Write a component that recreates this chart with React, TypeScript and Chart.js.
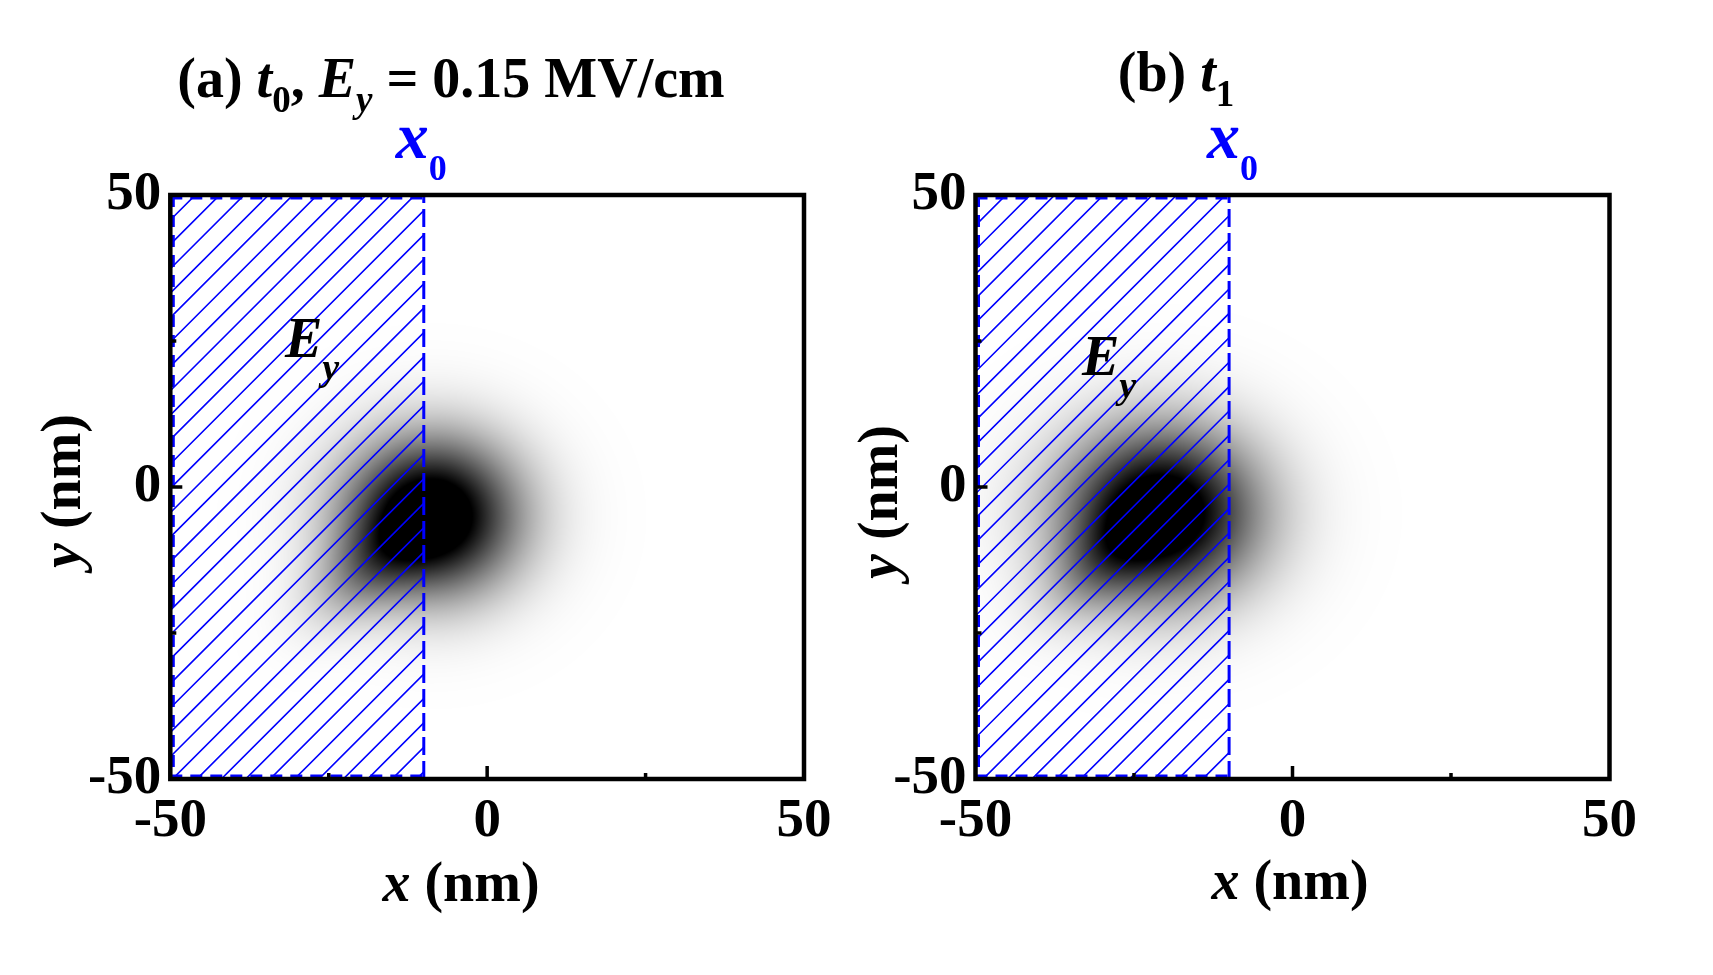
import React, { useEffect, useRef } from "react";
import { Chart, registerables } from "chart.js";

Chart.register(...registerables);

// ---------- data ----------
const axisMin = -50;
const axisMax = 50;
const tickValues = [-50, -25, 0, 25, 50];
const tickLabels = ["-50", "", "0", "", "50"];
const majorTickValues = [0];
const minorTickValues = [-25, 25];
const panelLetters = ["(a)", "(b)"];
const panelTimes = ["0", "1"];
const fieldValue = "0.15 MV/cm";
const fieldEdgeX0 = [-10, -10]; // x0 (nm) for panels a, b

// density blob components (nm): centre, sigma along/across axis, axis angle (deg), amplitude
const blobA_cx = [-8.8, -19.0];
const blobA_cy = [-5.0, -14.0];
const blobA_sigmaU = [9.4, 8.0];
const blobA_sigmaV = [9.2, 4.5];
const blobA_angle = [0, 45];
const blobA_amp = [1.25, 0.3];

const blobB_cx = [-20.8, -30.0];
const blobB_cy = [-4.5, -13.0];
const blobB_sigmaU = [10.6, 8.0];
const blobB_sigmaV = [10.0, 4.5];
const blobB_angle = [0, 45];
const blobB_amp = [1.22, 0.26];

const blobs = [
  { cx: blobA_cx, cy: blobA_cy, su: blobA_sigmaU, sv: blobA_sigmaV, ang: blobA_angle, amp: blobA_amp },
  { cx: blobB_cx, cy: blobB_cy, su: blobB_sigmaU, sv: blobB_sigmaV, ang: blobB_angle, amp: blobB_amp },
];

// ---------- styles / layout ----------
const FAMILY = "'Liberation Serif', 'Times New Roman', serif";
const BLUE = "rgb(0,0,255)";
const canvasLeft = [0, 856];
const canvasWidth = [856, 857];
const CANVAS_H = 975;
const yAxisWidth = [170.3, 119.5];
const padRight = [52, 103.5];
const hatchPhase = [0.6, 6.0];
const HATCH_SP = 24.4;

type Seg = { t: string; size: number; italic?: boolean; dy?: number };

function drawRich(ctx: CanvasRenderingContext2D, segs: Seg[], x: number, y: number, align: "left" | "center", color: string) {
  const fontOf = (s: Seg) => `${s.italic ? "italic " : ""}bold ${s.size}px ${FAMILY}`;
  const widths = segs.map((s) => {
    ctx.font = fontOf(s);
    return ctx.measureText(s.t).width;
  });
  const total = widths.reduce((a, b) => a + b, 0);
  let cx = align === "center" ? x - total / 2 : x;
  ctx.fillStyle = color;
  ctx.textBaseline = "alphabetic";
  ctx.textAlign = "left";
  segs.forEach((s, i) => {
    ctx.font = fontOf(s);
    ctx.fillText(s.t, cx, y + (s.dy || 0));
    cx += widths[i];
  });
}

const textPos = [
  { titleX: 451, titleY: 97, x0dx: -28, x0Y: 158, eyX: 285, eyY: 357, xtX: 461, xtY: 901, ytX: 80, ytY: 491 },
  { titleX: 1176, titleY: 91, x0dx: -22, x0Y: 158, eyX: 1082, eyY: 375, xtX: 1290, xtY: 899, ytX: 897, ytY: 502 },
];

const fieldPlugin = {
  id: "fieldDecor",
  beforeDatasetsDraw(chart: any, _args: any, opts: any) {
    const p = opts.panel as number;
    const ctx: CanvasRenderingContext2D = chart.ctx;
    const { left, top, right, bottom } = chart.chartArea;
    const xs = chart.scales.x;
    const ys = chart.scales.y;
    // density map
    const W = Math.round(right - left);
    const H = Math.round(bottom - top);
    const off = document.createElement("canvas");
    off.width = W;
    off.height = H;
    const octx = off.getContext("2d")!;
    const img = octx.createImageData(W, H);
    const b = blobs[p];
    const n = b.cx.length;
    const cosA = b.ang.map((a) => Math.cos((a * Math.PI) / 180));
    const sinA = b.ang.map((a) => Math.sin((a * Math.PI) / 180));
    const xv = new Float64Array(W);
    for (let i = 0; i < W; i++) xv[i] = xs.getValueForPixel(left + (i + 0.5) * ((right - left) / W));
    for (let j = 0; j < H; j++) {
      const yv = ys.getValueForPixel(top + (j + 0.5) * ((bottom - top) / H));
      for (let i = 0; i < W; i++) {
        let I = 0;
        for (let k = 0; k < n; k++) {
          const dx = xv[i] - b.cx[k];
          const dy = yv - b.cy[k];
          const u = dx * cosA[k] + dy * sinA[k];
          const v = -dx * sinA[k] + dy * cosA[k];
          I += b.amp[k] * Math.exp(-(u * u) / (2 * b.su[k] * b.su[k]) - (v * v) / (2 * b.sv[k] * b.sv[k]));
        }
        const g = Math.round(255 * (1 - Math.min(1, I)));
        const idx = (j * W + i) * 4;
        img.data[idx] = g;
        img.data[idx + 1] = g;
        img.data[idx + 2] = g;
        img.data[idx + 3] = 255;
      }
    }
    octx.putImageData(img, 0, 0);
    ctx.drawImage(off, left, top, right - left, bottom - top);

    // hatched field region from axisMin to x0
    const xL = xs.getPixelForValue(axisMin);
    const xR = xs.getPixelForValue(fieldEdgeX0[p]);
    const yT = ys.getPixelForValue(axisMax);
    const yB = ys.getPixelForValue(axisMin);
    ctx.save();
    ctx.beginPath();
    ctx.rect(xL, yT, xR - xL, yB - yT);
    ctx.clip();
    ctx.strokeStyle = BLUE;
    ctx.lineWidth = 1.6;
    ctx.beginPath();
    const c0 = xL + yT + hatchPhase[p];
    for (let k = -5; k < 60; k++) {
      const c = c0 + k * HATCH_SP;
      ctx.moveTo(xL, c - xL);
      ctx.lineTo(xR, c - xR);
    }
    ctx.stroke();
    ctx.restore();
  },
  afterDraw(chart: any, _args: any, opts: any) {
    const p = opts.panel as number;
    const ctx: CanvasRenderingContext2D = chart.ctx;
    const { left, top, right, bottom } = chart.chartArea;
    const xs = chart.scales.x;
    const ys = chart.scales.y;
    const xL = xs.getPixelForValue(axisMin);
    const xR = xs.getPixelForValue(fieldEdgeX0[p]);
    const yT = ys.getPixelForValue(axisMax);
    const yB = ys.getPixelForValue(axisMin);
    // dashed blue outline of field region (inside the frame)
    ctx.save();
    ctx.strokeStyle = BLUE;
    ctx.lineWidth = 3;
    ctx.setLineDash([12, 8]);
    ctx.beginPath();
    ctx.moveTo(xL, yT + 3);
    ctx.lineTo(xR, yT + 3);
    ctx.moveTo(xL, yB - 3);
    ctx.lineTo(xR, yB - 3);
    ctx.moveTo(xL + 3, yT);
    ctx.lineTo(xL + 3, yB);
    ctx.stroke();
    ctx.restore();

    // frame
    ctx.save();
    ctx.strokeStyle = "#000";
    ctx.lineWidth = 4.5;
    ctx.strokeRect(left, top, right - left, bottom - top);
    // inward ticks
    ctx.lineWidth = 3.5;
    ctx.beginPath();
    majorTickValues.forEach((v) => {
      const px = xs.getPixelForValue(v);
      ctx.moveTo(px, bottom);
      ctx.lineTo(px, bottom - 13);
      const py = ys.getPixelForValue(v);
      ctx.moveTo(left, py);
      ctx.lineTo(left + 12, py);
    });
    minorTickValues.forEach((v) => {
      const px = xs.getPixelForValue(v);
      ctx.moveTo(px, bottom);
      ctx.lineTo(px, bottom - 6);
      const py = ys.getPixelForValue(v);
      ctx.moveTo(left, py);
      ctx.lineTo(left + 6, py);
    });
    ctx.stroke();
    ctx.restore();

    // texts
    const off = canvasLeft[p];
    const tp = textPos[p];
    ctx.save();
    const titleSegs: Seg[] =
      p === 0
        ? [
            { t: panelLetters[0] + " ", size: 56 },
            { t: "t", size: 56, italic: true },
            { t: panelTimes[0], size: 37, dy: 15 },
            { t: ", ", size: 56 },
            { t: "E", size: 56, italic: true },
            { t: "y", size: 37, italic: true, dy: 15 },
            { t: " = " + fieldValue, size: 56 },
          ]
        : [
            { t: panelLetters[1] + " ", size: 56 },
            { t: "t", size: 56, italic: true },
            { t: panelTimes[1], size: 37, dy: 15 },
          ];
    drawRich(ctx, titleSegs, tp.titleX - off, tp.titleY, "center", "#000");
    // x0 label
    drawRich(
      ctx,
      [
        { t: "x", size: 66, italic: true },
        { t: "0", size: 36, dy: 22 },
      ],
      xR + tp.x0dx,
      tp.x0Y,
      "left",
      BLUE
    );
    // E_y label
    drawRich(
      ctx,
      [
        { t: "E", size: 56, italic: true },
        { t: "y", size: 38, italic: true, dy: 23 },
      ],
      tp.eyX - off,
      tp.eyY,
      "left",
      "#000"
    );
    // axis titles
    const axisSegs = (v: string): Seg[] => [
      { t: v, size: 56, italic: true },
      { t: " (nm)", size: 56 },
    ];
    drawRich(ctx, axisSegs("x"), tp.xtX - off, tp.xtY, "center", "#000");
    ctx.translate(tp.ytX - off, tp.ytY);
    ctx.rotate(-Math.PI / 2);
    drawRich(ctx, axisSegs("y"), 0, 0, "center", "#000");
    ctx.restore();
  },
};

function labelFor(v: number) {
  const i = tickValues.indexOf(v);
  return i >= 0 ? tickLabels[i] : "";
}

function buildConfig(p: number): any {
  const font = { family: FAMILY, size: 55, weight: "bold" as const };
  return {
    type: "scatter",
    data: {
      datasets: [
        {
          label: "x0",
          data: [
            { x: fieldEdgeX0[p], y: axisMin },
            { x: fieldEdgeX0[p], y: axisMax },
          ],
          showLine: true,
          borderColor: BLUE,
          borderWidth: 3,
          borderDash: [18, 6],
          pointRadius: 0,
          fill: false,
        },
      ],
    },
    options: {
      animation: false,
      responsive: false,
      maintainAspectRatio: false,
      layout: { padding: { top: 195, right: padRight[p], left: 0, bottom: 0 } },
      plugins: {
        legend: { display: false },
        tooltip: { enabled: false },
        title: { display: false },
        fieldDecor: { panel: p },
      },
      scales: {
        x: {
          type: "linear",
          min: axisMin,
          max: axisMax,
          afterBuildTicks: (s: any) => {
            s.ticks = tickValues.map((v) => ({ value: v }));
          },
          ticks: { callback: (v: any) => labelFor(Number(v)), autoSkip: false, maxRotation: 0, font, color: "#000", padding: 2 },
          grid: { display: false },
          border: { display: false },
          afterFit: (s: any) => {
            s.height = CANVAS_H - 779;
            s.paddingLeft = 0;
            s.paddingRight = 0;
          },
        },
        y: {
          type: "linear",
          min: axisMin,
          max: axisMax,
          afterBuildTicks: (s: any) => {
            s.ticks = tickValues.map((v) => ({ value: v }));
          },
          ticks: { callback: (v: any) => labelFor(Number(v)), autoSkip: false, font, color: "#000", padding: 1 },
          grid: { display: false },
          border: { display: false },
          afterFit: (s: any) => {
            s.width = yAxisWidth[p];
            s.paddingTop = 0;
            s.paddingBottom = 0;
          },
        },
      },
    },
    plugins: [fieldPlugin],
  };
}

export default function App() {
  const refA = useRef<HTMLCanvasElement>(null);
  const refB = useRef<HTMLCanvasElement>(null);
  useEffect(() => {
    const charts = [refA, refB].map((r, p) => new Chart(r.current!, buildConfig(p)));
    return () => charts.forEach((c) => c.destroy());
  }, []);
  return (
    <div style={{ position: "absolute", left: 0, top: 0, width: 1713, height: 975, background: "#fff" }}>
      {[refA, refB].map((r, p) => (
        <canvas
          key={p}
          ref={r}
          width={canvasWidth[p]}
          height={CANVAS_H}
          style={{ position: "absolute", left: canvasLeft[p], top: 0, width: canvasWidth[p], height: CANVAS_H }}
        />
      ))}
    </div>
  );
}
